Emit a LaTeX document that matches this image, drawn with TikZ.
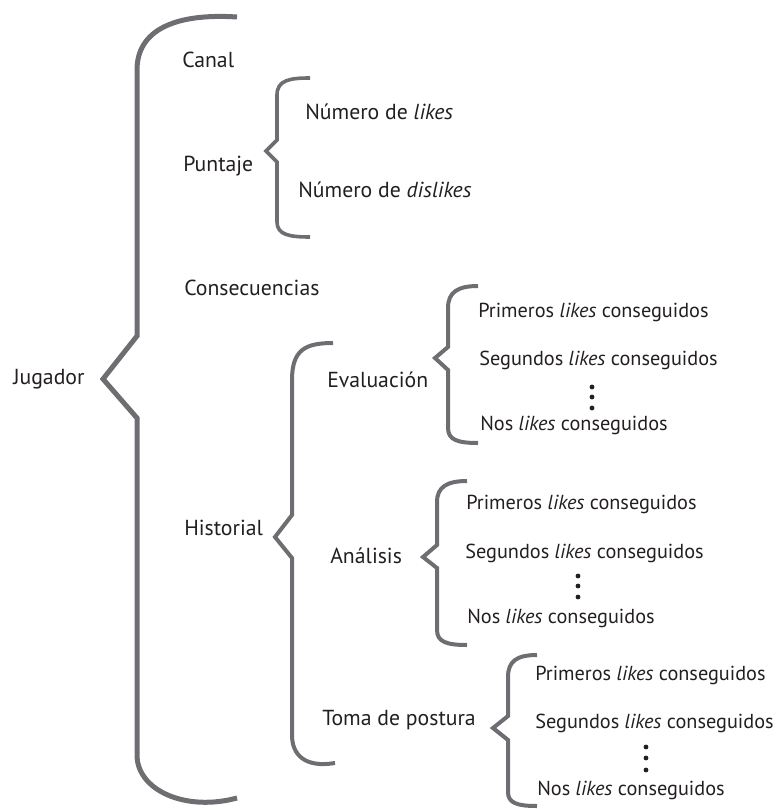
\documentclass[tikz,border=0pt]{standalone}
\usepackage{fontspec}
\setmainfont{PT Sans}
\definecolor{bracegray}{HTML}{6D6E71}
\definecolor{txt}{HTML}{231F20}
\newcommand\lk{\textit{likes}}
\begin{document}
\begin{tikzpicture}[x=0.75pt,y=-0.75pt,
  lbl/.style={anchor=base west,inner sep=0pt,text=txt,font=\fontsize{16.3}{18}\selectfont},
  item/.style={lbl,font=\fontsize{15.2}{18}\selectfont},
  brc/.style={draw=bracegray,line width=3pt,line join=miter,line cap=butt},
  bigbrc/.style={brc,line width=3.75pt},
  dot/.style={circle,fill=txt,inner sep=0pt,minimum size=3.6pt}]
\useasboundingbox (0,0) rectangle (775,809);
% big brace
\draw[bigbrc] (237,17) .. controls (175,13) and (137,30) .. (137,70)
  -- (137,336) -- (103,379) -- (137,418) -- (137,755)
  .. controls (137,790) and (185,812) .. (237,798);
% Puntaje brace
\draw[brc,line width=2.7pt] (310,78) .. controls (290,78) and (277,80) .. (277,95)
  -- (277,140) -- (266,151) -- (277,162) -- (277,222)
  .. controls (277,235) and (290,237) .. (310,237);
% Historial brace
\draw[brc] (333,343) .. controls (305,343) and (292,350) .. (292,380)
  -- (292,515) -- (275,537) -- (292,558) -- (292,735)
  .. controls (292,755) and (305,768) .. (335,763);
% Evaluacion group brace
\draw[brc] (478,286) .. controls (458,286) and (448,292) .. (448,308)
  -- (448,347) -- (435,358) -- (448,370) -- (448,428)
  .. controls (448,440) and (458,443) .. (478,443);
% Analisis group brace
\draw[brc] (467,481) .. controls (447,481) and (437,487) .. (437,502)
  -- (437,545) -- (423,557) -- (437,568) -- (437,630)
  .. controls (437,642) and (447,645) .. (467,645);
% Toma group brace
\draw[brc] (537,655) .. controls (517,655) and (508,661) .. (508,677)
  -- (508,716) -- (493,728) -- (508,740) -- (508,792)
  .. controls (508,803) and (517,806) .. (537,806);
% texts
\node[lbl] (jug) at (13,384) {Jugador};
\node[lbl] (can) at (182,68) {Canal};
\node[lbl] (pun) at (183,172) {Puntaje};
\node[lbl] (nl) at (305,120) {Número de \lk};
\node[lbl] (nd) at (298,198) {Número de \textit{dislikes}};
\node[lbl] (con) at (184,295) {Consecuencias};
\node[lbl] (his) at (184,535) {Historial};
\node[lbl] (eva) at (327,387) {Evaluación};
\node[lbl] (ana) at (330,563) {Análisis};
\node[lbl] (tom) at (322,725) {Toma de postura};
\node[item] (p1) at (478,317) {Primeros \lk{} conseguidos};
\node[item] (s1) at (479,365) {Segundos \lk{} conseguidos};
\node[item] (n1) at (480,430) {Nos \lk{} conseguidos};
\node[item] (p2) at (466,509) {Primeros \lk{} conseguidos};
\node[item] (s2) at (465,558) {Segundos \lk{} conseguidos};
\node[item] (n2) at (467,623) {Nos \lk{} conseguidos};
\node[item] (p3) at (535,680) {Primeros \lk{} conseguidos};
\node[item] (s3) at (535,728) {Segundos \lk{} conseguidos};
\node[item] (n3) at (537,795) {Nos \lk{} conseguidos};
% dots
\foreach \yy in {387,397,408} \node[dot] at (592,\yy) {};
\foreach \yy in {576,586,597} \node[dot] at (578,\yy) {};
\foreach \yy in {747,758,770} \node[dot] at (646,\yy) {};
\end{tikzpicture}
\end{document}
